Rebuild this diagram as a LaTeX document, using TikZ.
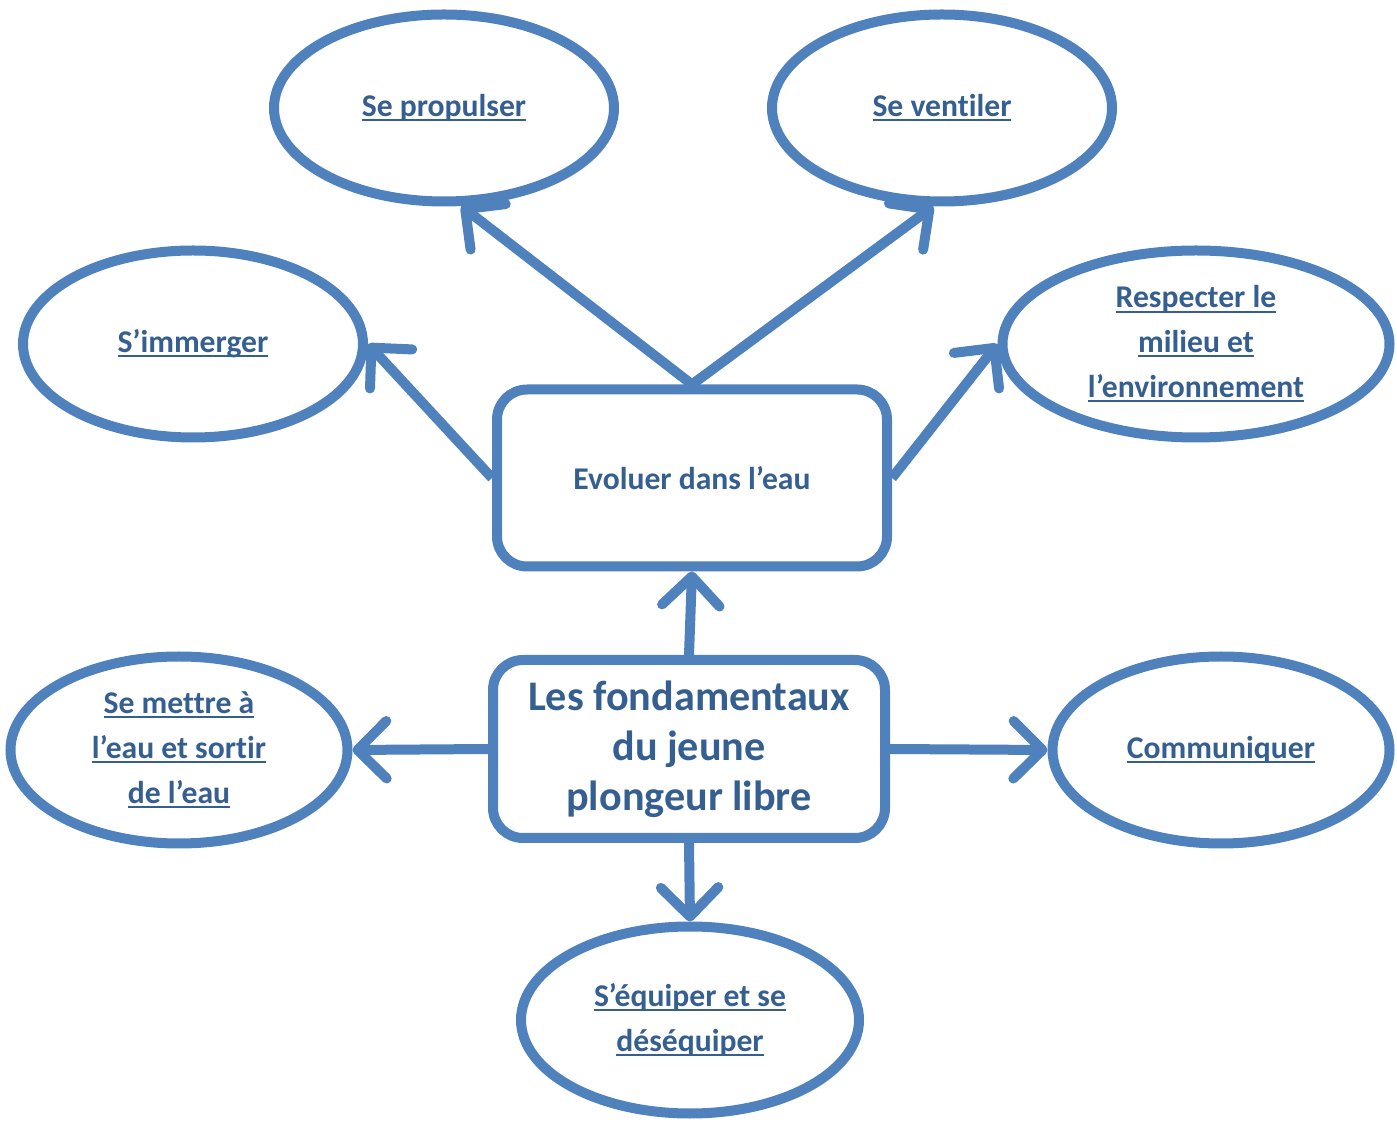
\documentclass[tikz,border=0pt]{standalone}
\usepackage{fontspec}
\setmainfont{Carlito}[Ligatures=NoCommon]
\usetikzlibrary{shapes.geometric}
\usetikzlibrary{arrows.meta}
\usetikzlibrary{shadows}

\definecolor{bleu}{HTML}{4F81BD}
\definecolor{bleutexte}{HTML}{365F91}
\newcommand{\souligne}[1]{\setbox0\hbox{#1}\rlap{\rule[-2.6pt]{\wd0}{1.1pt}}\box0}

\begin{document}
\begin{tikzpicture}[
  >={Straight Barb[length=0.58cm,width=1.15cm,round]},
  ombre/.style={drop shadow={shadow xshift=0.6mm,shadow yshift=-0.9mm,opacity=0.3}},
  but/.style={ellipse,draw=bleu,line width=0.2cm,fill=white,ombre,inner sep=0pt,
    minimum width=6.8cm,minimum height=3.74cm,text=bleutexte,align=center,
    font=\bfseries\fontsize{18}{25.5}\selectfont},
  boite/.style={rectangle,rounded corners=0.6cm,draw=bleu,line width=0.2cm,fill=white,ombre,
    text=bleutexte,align=center}
]
  \useasboundingbox (0,0) rectangle (27.94,22.48);
  \node[boite,minimum width=7.84cm,minimum height=3.56cm,
    font=\bfseries\fontsize{24}{28.4}\selectfont](fond) at (13.78,7.5){Les fondamentaux\\du jeune\\plongeur libre};
  \node[boite,minimum width=7.8cm,minimum height=3.54cm,
    font=\bfseries\fontsize{18}{25.5}\selectfont](evol) at (13.84,12.92){Evoluer dans l’eau};
  \node[but](prop) at (8.88,20.32){\souligne{Se propulser}};
  \node[but](vent) at (18.84,20.32){\souligne{Se ventiler}};
  \node[but](imm) at (3.86,15.6){\souligne{S’immerger}};
  \node[but,minimum width=7.74cm](resp) at (23.92,15.6){\souligne{Respecter le}\\\souligne{milieu et}\\\souligne{l’environnement}};
  \node[but,minimum width=6.74cm](mettre) at (3.58,7.48){\souligne{Se mettre à}\\\souligne{l’eau et sortir}\\\souligne{de l’eau}};
  \node[but,minimum width=6.74cm](comm) at (24.42,7.48){\souligne{Communiquer}};
  \node[but,minimum width=6.76cm](equip) at (13.8,2.08){\souligne{S’équiper et se}\\\souligne{déséquiper}};
  \path[->,bleu,line width=0.2cm]
    (evol.north) edge (prop.-80)
    (evol.north) edge (vent.-95)
    (evol.west) edge (imm.east)
    (evol.east) edge (resp.west)
    (fond.north) edge (evol.south)
    (fond.west) edge (mettre.east)
    (fond.east) edge (comm.west)
    (fond.south) edge (equip.north)
  ;
\end{tikzpicture}
\end{document}
